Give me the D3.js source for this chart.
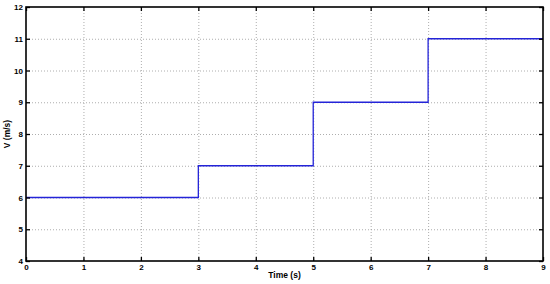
<!DOCTYPE html>
<html><head><meta charset="utf-8">
<script src="https://cdn.jsdelivr.net/npm/d3@7"></script>
<style>body{margin:0;background:#fff}svg{display:block}</style>
</head><body>
<svg id="c" width="550" height="284"></svg>
<script>
const timeSteps = [0, 3, 5, 7, 9];
const speedValues = [6, 7, 9, 11, 11];
const xTicks = [0,1,2,3,4,5,6,7,8,9];
const yTicks = [4,5,6,7,8,9,10,11,12];
const xLabel = "Time (s)";
const yLabel = "V (m/s)";

const svg = d3.select("#c");
const L = 26, R = 543, T = 7, B = 261;
const x = d3.scaleLinear().domain([0,9]).range([L,R]);
const y = d3.scaleLinear().domain([4,12]).range([B,T]);
const font = "Arial, 'Liberation Sans', sans-serif";

// grid
const g = svg.append("g");
g.selectAll(".gx").data(xTicks.slice(1,-1)).enter().append("line")
 .attr("x1",d=>x(d)+0.5).attr("x2",d=>x(d)+0.5).attr("y1",T).attr("y2",B)
 .attr("stroke","#999").attr("stroke-width",0.8).attr("stroke-dasharray","1,2");
g.selectAll(".gy").data(yTicks.slice(1,-1)).enter().append("line")
 .attr("y1",d=>y(d)+0.5).attr("y2",d=>y(d)+0.5).attr("x1",L).attr("x2",R)
 .attr("stroke","#999").attr("stroke-width",0.8).attr("stroke-dasharray","1,2");

// line
const pts = timeSteps.map((t,i)=>[t,speedValues[i]]);
const line = d3.line().x(d=>x(d[0])).y(d=>y(d[1])).curve(d3.curveStepAfter);
svg.append("path").datum(pts).attr("d",line).attr("fill","none")
 .attr("stroke","#2424d8").attr("stroke-width",1.3);

// axes
const ax = svg.append("g").attr("transform",`translate(0,${B})`)
 .call(d3.axisBottom(x).tickValues(xTicks).tickSize(-4).tickPadding(3).tickFormat(d3.format("d")));
const ay = svg.append("g").attr("transform",`translate(${L},0)`)
 .call(d3.axisLeft(y).tickValues(yTicks).tickSize(-4).tickPadding(3).tickFormat(d3.format("d")));
const axt = svg.append("g").attr("transform",`translate(0,${T})`)
 .call(d3.axisTop(x).tickValues(xTicks).tickSize(-4).tickFormat(""));
const ayr = svg.append("g").attr("transform",`translate(${R},0)`)
 .call(d3.axisRight(y).tickValues(yTicks).tickSize(-4).tickFormat(""));
[ax,ay,axt,ayr].forEach(a=>{
  a.select(".domain").remove();
  a.selectAll("line").attr("stroke","#000").attr("stroke-width",1.3);
  a.selectAll("text").attr("font-family",font).attr("font-size",8).attr("font-weight","bold").attr("fill","#000");
});
svg.append("rect").attr("x",L).attr("y",T).attr("width",R-L).attr("height",B-T)
 .attr("fill","none").attr("stroke","#000").attr("stroke-width",1.6);

svg.append("text").attr("x",(L+R)/2).attr("y",278).attr("text-anchor","middle")
 .attr("font-family",font).attr("font-size",8.5).attr("font-weight","bold").text(xLabel);
svg.append("text").attr("transform",`translate(10,${(T+B)/2}) rotate(-90)`).attr("text-anchor","middle")
 .attr("font-family",font).attr("font-size",8.5).attr("font-weight","bold").text(yLabel);
</script>
</body></html>
